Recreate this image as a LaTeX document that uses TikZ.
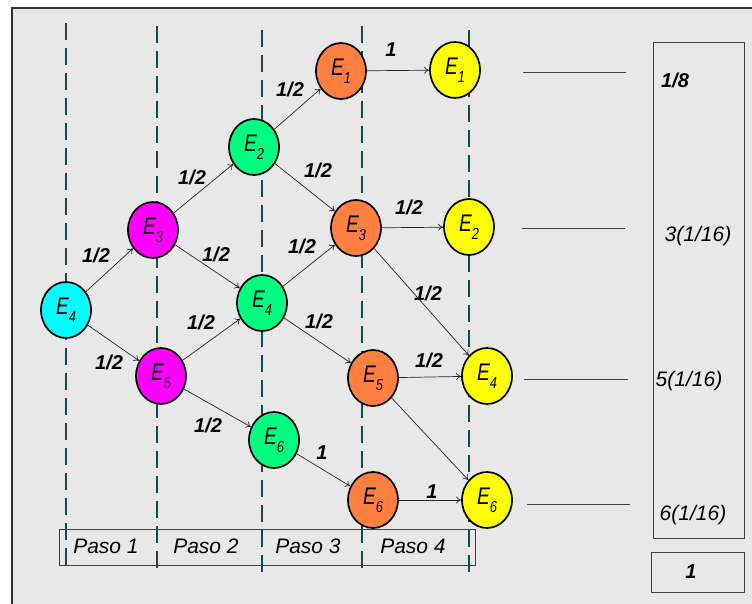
\documentclass[tikz,border=0pt]{standalone}
\usepackage{fontspec}
\setmainfont{Liberation Sans}
\usetikzlibrary{shapes.geometric,arrows.meta}
\definecolor{bgc}{RGB}{232,232,232}
\definecolor{dashcol}{RGB}{16,76,76}
\definecolor{cyanc}{RGB}{0,255,255}
\definecolor{magc}{RGB}{255,0,255}
\definecolor{grnc}{RGB}{0,255,128}
\definecolor{orgc}{RGB}{255,128,64}
\definecolor{yelc}{RGB}{255,255,0}
\newcommand\Estate[1]{\scalebox{0.8}[1]{\fontsize{24}{24}\selectfont E\raisebox{-8pt}{\fontsize{16}{16}\selectfont #1}}}
\begin{document}
\begin{tikzpicture}[x=1pt,y=-1pt,
  st/.style={ellipse,draw=black,line width=1.7pt,minimum width=50pt,minimum height=56pt,inner sep=0pt,font=\itshape},
  ar/.style={-{To[length=5pt,width=7pt]},line width=0.7pt,black!85},
  lab/.style={font=\fontsize{20}{20}\selectfont\bfseries\itshape,inner sep=0pt},
  txt/.style={font=\fontsize{21}{21}\selectfont\itshape,inner sep=0pt},
  vline/.style={line width=2.5pt,dashcol,dash pattern=on 17pt off 8pt},
  hline/.style={line width=1pt,black!75}]
\useasboundingbox (0,0) rectangle (752,604);
\fill[white] (0,0) rectangle (752,604);
\fill[bgc] (11,7) rectangle (752,604);
\draw[line width=2.5pt,black!80] (12,604) -- (12,8) -- (752,8);
% dashed step lines
\draw[vline] (66,23) -- (66,567);
\draw[vline] (157,26) -- (157,570);
\draw[vline] (262,30) -- (262,575);
\draw[vline] (362,26) -- (362,570);
\draw[vline] (469,30) -- (469,575);
% Paso box
\draw[hline] (59,529) rectangle (475,565);
\node[txt] (p1) at (106,546) {Paso 1};
\node[txt] (p2) at (206,546) {Paso 2};
\node[txt] (p3) at (308,546) {Paso 3};
\node[txt] (p4) at (413,546) {Paso 4};
% nodes
\node[st,fill=cyanc] (a4) at (66,310) {\Estate{4}};
\node[st,fill=magc] (b3) at (153,230) {\Estate{3}};
\node[st,fill=magc] (b5) at (161,376) {\Estate{5}};
\node[st,fill=grnc] (c2) at (254,147) {\Estate{2}};
\node[st,fill=grnc] (c4) at (262,303) {\Estate{4}};
\node[st,fill=grnc] (c6) at (274,440) {\Estate{6}};
\node[st,fill=orgc] (d1) at (341,71) {\Estate{1}};
\node[st,fill=orgc] (d3) at (356,228) {\Estate{3}};
\node[st,fill=orgc] (d5) at (373,378) {\Estate{5}};
\node[st,fill=orgc] (d6) at (373,500) {\Estate{6}};
\node[st,fill=yelc] (e1) at (455,70) {\Estate{1}};
\node[st,fill=yelc] (e2) at (469,227) {\Estate{2}};
\node[st,fill=yelc] (e4) at (487,376) {\Estate{4}};
\node[st,fill=yelc] (e6) at (487,500) {\Estate{6}};
% arrows
\draw[ar] (a4) -- (b3);
\draw[ar] (a4) -- (b5);
\draw[ar] (b3) -- (c2);
\draw[ar] (b3) -- (c4);
\draw[ar] (b5) -- (c4);
\draw[ar] (b5) -- (c6);
\draw[ar] (c2) -- (d1);
\draw[ar] (c2) -- (d3);
\draw[ar] (c4) -- (d3);
\draw[ar] (c4) -- (d5);
\draw[ar] (c6) -- (d6);
\draw[ar] (d1) -- (e1);
\draw[ar] (d3) -- (e2);
\draw[ar] (d3) -- (e4);
\draw[ar] (d5) -- (e4);
\draw[ar] (d5) -- (e6);
\draw[ar] (d6) -- (e6);
% labels
\node[lab] (l1) at (96,255) {1/2};
\node[lab] (l2) at (109,362) {1/2};
\node[lab] (l3) at (192,177) {1/2};
\node[lab] (l4) at (216,254) {1/2};
\node[lab] (l5) at (201,322) {1/2};
\node[lab] (l6) at (208,425) {1/2};
\node[lab] (l7) at (290,89) {1/2};
\node[lab] (l8) at (318,170) {1/2};
\node[lab] (l9) at (302,246) {1/2};
\node[lab] (l10) at (319,321) {1/2};
\node[lab] (l11) at (322,453) {1};
\node[lab] (l12) at (391,50) {1};
\node[lab] (l13) at (409,207) {1/2};
\node[lab] (l14) at (428,293) {1/2};
\node[lab] (l15) at (429,360) {1/2};
\node[lab] (l16) at (432,492) {1};
% right side
\coordinate (r1a) at (523,73);  \coordinate (r1b) at (626,73);
\coordinate (r2a) at (522,228); \coordinate (r2b) at (625,228);
\coordinate (r4a) at (524,379); \coordinate (r4b) at (628,379);
\coordinate (r6a) at (527,504); \coordinate (r6b) at (630,504);
\draw[hline] (r1a) -- (r1b);
\draw[hline] (r2a) -- (r2b);
\draw[hline] (r4a) -- (r4b);
\draw[hline] (r6a) -- (r6b);
\draw[hline] (653,43) rectangle (744,538);
\draw[hline] (651,552) rectangle (744,592);
\node[lab] (t1) at (675,80) {1/8};
\node[txt] (t2) at (698,236) {3(1/16)};
\node[txt] (t3) at (689,381) {5(1/16)};
\node[txt] (t4) at (693,515) {6(1/16)};
\node[lab] (t5) at (691,572) {1};
\end{tikzpicture}
\end{document}
